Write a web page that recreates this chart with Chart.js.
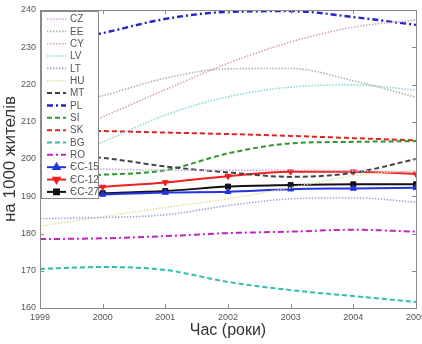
<!DOCTYPE html>
<html>
<head>
<meta charset="utf-8">
<script src="https://cdn.jsdelivr.net/npm/chart.js@4"></script>
<style>
  html, body { margin: 0; padding: 0; background: #fff; }
  #wrap { width: 422px; height: 344px; }
</style>
</head>
<body>
<div id="wrap"><canvas id="birthChart" width="422" height="344"></canvas></div>
<script>
// роки
const years = [1999, 2000, 2001, 2002, 2003, 2004, 2005];
const yTicks = [160, 170, 180, 190, 200, 210, 220, 230, 240];

// значення на 1000 жителів
const CZ = [197.5, 197.3, 197.0, 197.0, 197.0, 196.8, 196.5];
const EE = [213.5, 217.0, 221.7, 224.2, 224.3, 221.0, 216.6];
const CY = [204.0, 211.3, 218.6, 225.7, 231.4, 235.4, 237.3];
const LV = [198.0, 204.6, 211.8, 216.7, 219.3, 219.9, 218.5];
const LT = [184.0, 184.3, 185.0, 187.5, 189.3, 189.6, 188.4];
const HU = [182.0, 184.5, 187.0, 189.3, 192.3, 195.5, 197.0];
const MT = [201.3, 200.3, 198.0, 196.4, 195.2, 196.3, 200.0];
const PL = [230.5, 233.8, 237.6, 239.5, 239.7, 238.1, 236.0];
const SI = [195.5, 195.8, 197.0, 201.5, 204.2, 204.6, 204.8];
const SK = [207.7, 207.5, 207.1, 206.7, 206.2, 205.6, 205.0];
const BG = [170.5, 171.0, 170.2, 167.0, 164.8, 163.2, 161.6];
const RO = [178.5, 178.7, 179.3, 180.1, 180.5, 181.0, 180.5];
const EC15 = [190.0, 190.5, 191.0, 191.2, 191.9, 192.1, 192.3];
const EC12 = [191.1, 192.5, 193.7, 195.4, 196.6, 196.6, 196.0];
const EC27 = [190.3, 190.8, 191.4, 192.6, 193.0, 193.2, 193.2];

function pts(vals) {
  return years.map((y, i) => ({ x: y, y: vals[i] }));
}

// стилі ліній
function dotted(label, vals, color) {
  return { label, data: pts(vals), borderColor: color, borderWidth: 1.6,
           borderDash: [1.5, 1.5], pointRadius: 0, fill: false };
}
function dashed(label, vals, color, dash, w) {
  return { label, data: pts(vals), borderColor: color, borderWidth: w || 2,
           borderDash: dash, pointRadius: 0, fill: false };
}
function marked(label, vals, color, style, rot) {
  return { label, data: pts(vals), borderColor: color, backgroundColor: color,
           borderWidth: 2, pointStyle: style, pointRotation: rot || 0,
           pointRadius: 3.5, pointBorderWidth: 1, fill: false };
}

const datasets = [
  dotted('CZ', CZ, '#c8a6d6'),
  dotted('EE', EE, '#a9b8a2'),
  dotted('CY', CY, '#d89fc6'),
  dotted('LV', LV, '#8fd6d6'),
  dotted('LT', LT, '#a6a8d8'),
  dotted('HU', HU, '#e6de9e'),
  dashed('MT', MT, '#444444', [5, 3]),
  dashed('PL', PL, '#2424cc', [6, 3, 2, 3], 2.4),
  dashed('SI', SI, '#2f962f', [5, 3]),
  dashed('SK', SK, '#e02424', [5, 3]),
  dashed('BG', BG, '#33bdb0', [5, 3]),
  dashed('RO', RO, '#c024c0', [6, 3, 2, 3]),
  marked('ЄС-15', EC15, '#2233e0', 'triangle'),
  marked('ЄС-12', EC12, '#f02020', 'triangle', 180),
  marked('ЄС-27', EC27, '#111111', 'rect')
];

// рамка + штрихи всередину (як у MATLAB)
const boxPlugin = {
  id: 'box',
  afterDatasetsDraw(chart) {
    const { ctx, chartArea: a, scales } = chart;
    ctx.save();
    ctx.strokeStyle = '#8a8a8a';
    ctx.lineWidth = 1;
    ctx.strokeRect(a.left + 0.5, a.top + 0.5, a.right - a.left, a.bottom - a.top);
    ctx.beginPath();
    years.forEach(v => {
      const x = Math.round(scales.x.getPixelForValue(v)) + 0.5;
      ctx.moveTo(x, a.bottom); ctx.lineTo(x, a.bottom - 4);
      ctx.moveTo(x, a.top); ctx.lineTo(x, a.top + 4);
    });
    yTicks.forEach(v => {
      const y = Math.round(scales.y.getPixelForValue(v)) + 0.5;
      ctx.moveTo(a.left, y); ctx.lineTo(a.left + 4, y);
      ctx.moveTo(a.right, y); ctx.lineTo(a.right - 4, y);
    });
    ctx.stroke();
    ctx.restore();
  }
};

// легенда всередині області графіка
const legendPlugin = {
  id: 'innerLegend',
  afterDatasetsDraw(chart) {
    const { ctx, chartArea: a } = chart;
    const x0 = a.left + 1, y0 = a.top + 1, w = 57, h = 187;
    ctx.save();
    ctx.fillStyle = '#fff';
    ctx.fillRect(x0, y0, w, h);
    ctx.strokeStyle = '#8a8a8a';
    ctx.lineWidth = 1;
    ctx.strokeRect(x0 + 0.5, y0 + 0.5, w, h);
    ctx.font = '10px "Liberation Sans", Arial, sans-serif';
    ctx.textBaseline = 'middle';
    chart.data.datasets.forEach((ds, i) => {
      const y = y0 + 8 + i * 12.35;
      ctx.strokeStyle = ds.borderColor;
      ctx.lineWidth = ds.borderWidth;
      ctx.setLineDash(ds.borderDash || []);
      ctx.beginPath();
      ctx.moveTo(x0 + 6, y);
      ctx.lineTo(x0 + 25, y);
      ctx.stroke();
      ctx.setLineDash([]);
      if (ds.pointStyle && Chart.helpers && Chart.helpers.drawPoint) {
        ctx.fillStyle = ds.borderColor;
        Chart.helpers.drawPoint(ctx, { pointStyle: ds.pointStyle, radius: 3.5,
          rotation: ds.pointRotation || 0, borderWidth: 1 }, x0 + 15.5, y);
      }
      ctx.fillStyle = '#555';
      ctx.fillText(ds.label, x0 + 29, y + 0.5);
    });
    ctx.restore();
  }
};

new Chart(document.getElementById('birthChart'), {
  type: 'line',
  data: { datasets },
  options: {
    responsive: false,
    animation: false,
    layout: { padding: { left: 0, right: 6, top: 10, bottom: 0 } },
    elements: { line: { tension: 0, cubicInterpolationMode: 'monotone' } },
    plugins: { legend: { display: false }, tooltip: { enabled: false } },
    scales: {
      x: {
        type: 'linear', min: 1999, max: 2005,
        afterBuildTicks: s => { s.ticks = years.map(v => ({ value: v })); },
        grid: { display: false, drawTicks: false, tickLength: 0 },
        border: { display: false },
        ticks: { color: '#555', font: { size: 9, family: 'Liberation Sans, Arial' },
                 padding: 4, maxRotation: 0, callback: v => String(v) },
        title: { display: true, text: 'Час (роки)', color: '#333',
                 font: { size: 16, family: 'Liberation Sans, Arial' }, padding: { top: 0 } },
        // підпис 2005 обрізається краєм, як в оригіналі
        afterFit: s => { s.height = 36; s.paddingRight = 0; s.paddingLeft = 0; }
      },
      y: {
        min: 160, max: 240,
        afterBuildTicks: s => { s.ticks = yTicks.map(v => ({ value: v })); },
        grid: { display: false, drawTicks: false, tickLength: 0 },
        border: { display: false },
        ticks: { color: '#555', font: { size: 9, family: 'Liberation Sans, Arial' }, padding: 4 },
        title: { display: true, text: 'на 1000 жителів', color: '#333',
                 font: { size: 17, family: 'Liberation Sans, Arial' }, padding: 0 },
        afterFit: s => { s.width = 40; }
      }
    }
  },
  plugins: [boxPlugin, legendPlugin]
});
</script>
</body>
</html>
